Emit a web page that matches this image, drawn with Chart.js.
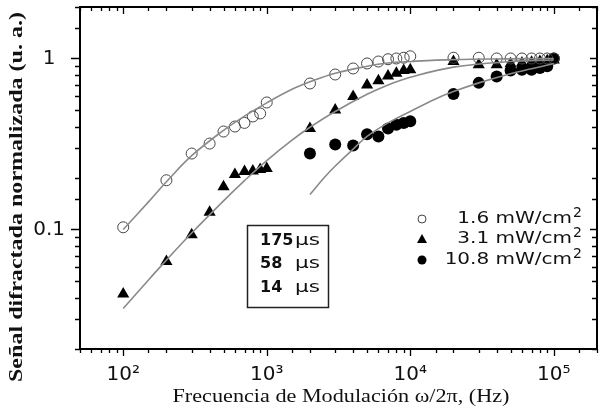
<!DOCTYPE html>
<html>
<head>
<meta charset="utf-8">
<script src="https://cdn.jsdelivr.net/npm/chart.js@4.4.0/dist/chart.umd.min.js"></script>
<style>
  html, body { margin: 0; padding: 0; background: #fff; overflow: hidden; }
  #wrap { width: 604px; height: 412px; }
</style>
</head>
<body>
<div id="wrap"><canvas id="chart" width="604" height="412" style="width:604px;height:412px"></canvas></div>
<script>
var freq1 = [100, 200, 300, 400, 500, 600, 700, 800, 900, 1000, 2000, 3000, 4000, 5000, 6000, 7000, 8000, 9000, 10000, 20000, 30000, 40000, 50000, 60000, 70000, 80000, 90000, 100000];
var signal1 = [0.103, 0.194, 0.278, 0.318, 0.374, 0.40, 0.42, 0.458, 0.477, 0.553, 0.714, 0.806, 0.874, 0.935, 0.96, 0.99, 1.0, 1.01, 1.03, 1.01, 1.01, 1.0, 1.0, 1.0, 1.0, 1.0, 1.0, 1.0];

var freq2 = [100, 200, 300, 400, 500, 600, 700, 800, 900, 1000, 2000, 3000, 4000, 5000, 6000, 7000, 8000, 9000, 10000, 20000, 30000, 40000, 50000, 60000, 70000, 80000, 90000, 100000];
var signal2 = [0.042, 0.065, 0.093, 0.126, 0.178, 0.21, 0.218, 0.22, 0.224, 0.227, 0.39, 0.50, 0.60, 0.70, 0.74, 0.79, 0.82, 0.85, 0.86, 0.96, 0.92, 0.92, 0.93, 0.94, 0.95, 0.96, 0.97, 0.98];

var freq3 = [2000, 3000, 4000, 5000, 6000, 7000, 8000, 9000, 10000, 20000, 30000, 40000, 50000, 60000, 70000, 80000, 90000, 100000];
var signal3 = [0.278, 0.314, 0.31, 0.36, 0.35, 0.39, 0.41, 0.42, 0.43, 0.62, 0.72, 0.785, 0.85, 0.86, 0.86, 0.88, 0.90, 1.0];

// curvas de ajuste
var fitFreq1 = [100, 150, 200, 300, 500, 700, 1000, 1500, 2000, 3000, 5000, 7000, 10000, 20000, 50000, 100000];
var fit1 = [0.10, 0.145, 0.19, 0.27, 0.38, 0.46, 0.55, 0.66, 0.73, 0.82, 0.90, 0.94, 0.96, 0.985, 0.995, 1.0];

var fitFreq2 = [100, 150, 200, 300, 500, 700, 1000, 1500, 2000, 3000, 5000, 7000, 10000, 20000, 50000, 100000];
var fit2 = [0.0345, 0.0507, 0.0662, 0.0953, 0.147, 0.193, 0.253, 0.333, 0.396, 0.49, 0.617, 0.70, 0.776, 0.89, 0.96, 0.98];

var fitFreq3 = [2000, 2500, 3000, 4000, 5000, 7000, 10000, 15000, 20000, 30000, 50000, 70000, 100000];
var fit3 = [0.16, 0.20, 0.235, 0.295, 0.35, 0.42, 0.49, 0.58, 0.64, 0.72, 0.815, 0.87, 0.935];

var legendLabels = ["1.6 mW/cm", "3.1 mW/cm", "10.8 mW/cm"];
var tauLabels = ["175", "58", "14"];

var xTickValues = [100, 1000, 10000, 100000];
var xTickLabels = ["10\u00b2", "10\u00b3", "10\u2074", "10\u2075"];
var yTickValues = [0.1, 1];
var yTickLabels = ["0.1", "1"];

var xTitle = "Frecuencia de Modulaci\u00f3n \u03c9/2\u03c0, (Hz)";
var yTitle = "Se\u00f1al difractada normalizada (u. a.)";

function toXY(xs, ys) {
  var out = [];
  for (var i = 0; i < xs.length; i++) out.push({ x: xs[i], y: ys[i] });
  return out;
}

function findLabel(v, vals, labels) {
  for (var i = 0; i < vals.length; i++) {
    if (Math.abs(v - vals[i]) / vals[i] < 1e-6) return labels[i];
  }
  return "";
}

function isDecade(v) {
  var e = Math.log10(v);
  return Math.abs(e - Math.round(e)) < 1e-6;
}

function drawStretched(ctx, text, cx, cy, targetW, rot) {
  var w = ctx.measureText(text).width;
  ctx.save();
  ctx.translate(cx, cy);
  ctx.rotate(rot);
  ctx.scale(targetW / w, 1);
  ctx.textAlign = "center";
  ctx.textBaseline = "middle";
  ctx.fillText(text, 0, 0);
  ctx.restore();
}

var fitColor = "#8a8a8a";

var decorPlugin = {
  id: "decor",
  afterDraw: function (chart) {
    var ctx = chart.ctx;
    var a = chart.chartArea;
    var xs = chart.scales.x;
    var ys = chart.scales.y;
    ctx.save();
    ctx.strokeStyle = "#000";
    ctx.lineWidth = 2;
    ctx.strokeRect(a.left, a.top, a.right - a.left, a.bottom - a.top);

    ctx.lineWidth = 1.3;
    ctx.beginPath();
    xs.ticks.forEach(function (t) {
      var px = Math.round(xs.getPixelForValue(t.value)) + 0.5;
      var big = isDecade(t.value);
      ctx.moveTo(px, a.bottom); ctx.lineTo(px, a.bottom + (big ? 7 : 4));
      ctx.moveTo(px, a.top); ctx.lineTo(px, a.top + (big ? 7 : 4));
    });
    ys.ticks.forEach(function (t) {
      var py = Math.round(ys.getPixelForValue(t.value)) + 0.5;
      var big = isDecade(t.value);
      ctx.moveTo(a.left, py); ctx.lineTo(a.left - (big ? 9 : 5), py);
      ctx.moveTo(a.right, py); ctx.lineTo(a.right - (big ? 7 : 5), py);
    });
    ctx.stroke();

    // titulos de ejes
    ctx.fillStyle = "#111";
    ctx.font = "18px 'Liberation Serif'";
    drawStretched(ctx, xTitle, 341, 397, 337, 0);
    ctx.font = "bold 18px 'Liberation Serif'";
    drawStretched(ctx, yTitle, 17.5, 197, 370, -Math.PI / 2);

    // leyenda
    var rowY = [219, 239, 260];
    var mx = 422;
    for (var i = 0; i < legendLabels.length; i++) {
      var y = rowY[i];
      ctx.beginPath();
      if (i === 0) {
        ctx.arc(mx, y, 4, 0, Math.PI * 2);
        ctx.lineWidth = 1;
        ctx.strokeStyle = "#444";
        ctx.stroke();
      } else if (i === 1) {
        ctx.moveTo(mx, y - 5); ctx.lineTo(mx + 5, y + 4); ctx.lineTo(mx - 5, y + 4); ctx.closePath();
        ctx.fillStyle = "#000"; ctx.fill();
      } else {
        ctx.arc(mx, y, 4.5, 0, Math.PI * 2);
        ctx.fillStyle = "#000"; ctx.fill();
      }
      ctx.fillStyle = "#111";
      ctx.font = "16px 'DejaVu Sans'";
      ctx.save();
      ctx.translate(572, y);
      ctx.scale(1.25, 1);
      ctx.textAlign = "right";
      ctx.textBaseline = "middle";
      ctx.fillText(legendLabels[i], 0, 0);
      ctx.restore();
      ctx.font = "14px 'DejaVu Sans'";
      ctx.textAlign = "left";
      ctx.textBaseline = "middle";
      ctx.fillText("2", 573, y - 6);
    }

    // recuadro de tiempos
    ctx.lineWidth = 1.5;
    ctx.strokeStyle = "#222";
    ctx.strokeRect(247.5, 225.5, 81, 82);
    var boxY = [241, 264, 288];
    for (var j = 0; j < tauLabels.length; j++) {
      ctx.fillStyle = "#111";
      ctx.font = "bold 16px 'DejaVu Sans'";
      ctx.textAlign = "left";
      ctx.textBaseline = "middle";
      ctx.fillText(tauLabels[j], 260, boxY[j]);
      ctx.save();
      ctx.translate(295, boxY[j]);
      ctx.scale(1.35, 1);
      ctx.font = "16px 'DejaVu Sans'";
      ctx.fillText("\u00b5s", 0, 0);
      ctx.restore();
    }
    ctx.restore();
  }
};

var chart = new Chart(document.getElementById("chart"), {
  type: "scatter",
  data: {
    datasets: [
      { label: "ajuste 1", data: toXY(fitFreq1, fit1), showLine: true, borderColor: fitColor, borderWidth: 1.6, pointRadius: 0, tension: 0.4 },
      { label: "ajuste 2", data: toXY(fitFreq2, fit2), showLine: true, borderColor: fitColor, borderWidth: 1.6, pointRadius: 0, tension: 0.4 },
      { label: "ajuste 3", data: toXY(fitFreq3, fit3), showLine: true, borderColor: fitColor, borderWidth: 1.6, pointRadius: 0, tension: 0.4 },
      { label: legendLabels[0], data: toXY(freq1, signal1), pointStyle: "circle", pointRadius: 5.5, pointBackgroundColor: "rgba(255,255,255,0)", pointBorderColor: "#444", pointBorderWidth: 1 },
      { label: legendLabels[1], data: toXY(freq2, signal2), pointStyle: "triangle", pointRadius: 7, pointBackgroundColor: "#000", pointBorderColor: "#000", pointBorderWidth: 0 },
      { label: legendLabels[2], data: toXY(freq3, signal3), pointStyle: "circle", pointRadius: 6, pointBackgroundColor: "#000", pointBorderColor: "#000", pointBorderWidth: 0 }
    ]
  },
  options: {
    responsive: false,
    animation: false,
    layout: { padding: { top: 5, right: -2, left: 0, bottom: 0 } },
    plugins: { legend: { display: false }, tooltip: { enabled: false } },
    scales: {
      x: {
        type: "logarithmic",
        position: "bottom",
        min: 50,
        max: 200000,
        grid: { display: false },
        border: { display: false },
        afterFit: function (s) { s.height = 63; s.paddingLeft = 0; s.paddingRight = 0; },
        ticks: {
          autoSkip: false,
          maxRotation: 0,
          padding: 6,
          color: "#111",
          font: { family: "DejaVu Sans", size: 20 },
          callback: function (v) { return findLabel(v, xTickValues, xTickLabels); }
        }
      },
      y: {
        type: "logarithmic",
        position: "left",
        min: 0.02,
        max: 2,
        grid: { display: false },
        border: { display: false },
        afterFit: function (s) { s.width = 80; s.paddingTop = 0; s.paddingBottom = 0; },
        ticks: {
          autoSkip: false,
          crossAlign: "center",
          padding: 7,
          color: "#111",
          font: { family: "DejaVu Sans", size: 20 },
          callback: function (v) { return findLabel(v, yTickValues, yTickLabels); }
        }
      }
    }
  },
  plugins: [decorPlugin]
});
</script>
</body>
</html>
